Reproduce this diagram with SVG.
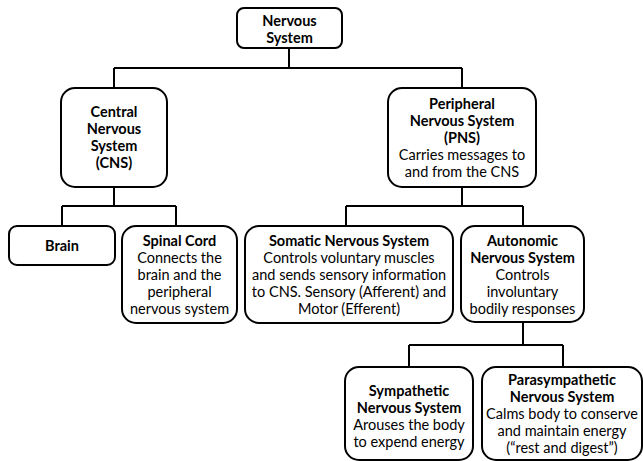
<svg xmlns="http://www.w3.org/2000/svg" width="643" height="461" viewBox="0 0 643 461">
<style>
.box{fill:#fff;stroke:#000;stroke-width:2}
.ln{fill:none;stroke:#000;stroke-width:2}
text{font-family:Lato,"Open Sans","Liberation Sans",sans-serif;font-size:14.5px;fill:#000;text-anchor:middle}
.b{font-weight:bold}
</style>
<rect width="643" height="461" fill="#fff"/>
<g id="connectors">
<path class="ln" d="M289,48V68M114,68H462M114,68V88M462,68V88"/>
<path class="ln" d="M114,187V206M62,206H176M62,206V226M176,206V226"/>
<path class="ln" d="M462,187V206M346,206H523M346,206V226M523,206V226"/>
<path class="ln" d="M523,322V345M409,345H563M409,345V367M563,345V367"/>
</g>
<g id="nervous-system">
<rect class="box" x="237" y="8" width="105" height="40" rx="7"/>
<text class="b" x="289.5" y="26">Nervous</text>
<text class="b" x="289.5" y="43">System</text>
</g>
<g id="cns">
<rect class="box" x="61" y="88" width="106" height="99" rx="14"/>
<text class="b" x="114" y="117">Central</text>
<text class="b" x="114" y="134">Nervous</text>
<text class="b" x="114" y="151">System</text>
<text class="b" x="114" y="168">(CNS)</text>
</g>
<g id="pns">
<rect class="box" x="388" y="88" width="148" height="99" rx="14"/>
<text class="b" x="462" y="108.5">Peripheral</text>
<text class="b" x="462" y="125.5">Nervous System</text>
<text class="b" x="462" y="142.5">(PNS)</text>
<text x="462" y="159.5">Carries messages to</text>
<text x="462" y="176.5">and from the CNS</text>
</g>
<g id="brain">
<rect class="box" x="9" y="226" width="106" height="39" rx="8"/>
<text class="b" x="62" y="250.5">Brain</text>
</g>
<g id="spinal-cord">
<rect class="box" x="122" y="226" width="115" height="97" rx="14"/>
<text class="b" x="179.5" y="245.5">Spinal Cord</text>
<text x="179.5" y="262.5">Connects the</text>
<text x="179.5" y="279.5">brain and the</text>
<text x="179.5" y="296.5">peripheral</text>
<text x="179.5" y="313.5">nervous system</text>
</g>
<g id="somatic">
<rect class="box" x="245" y="226" width="208" height="97" rx="14"/>
<text class="b" x="349" y="245.5">Somatic Nervous System</text>
<text x="349" y="262.5">Controls voluntary muscles</text>
<text x="349" y="279.5">and sends sensory information</text>
<text x="349" y="296.5">to CNS. Sensory (Afferent) and</text>
<text x="349" y="313.5">Motor (Efferent)</text>
</g>
<g id="autonomic">
<rect class="box" x="461" y="226" width="123" height="96" rx="14"/>
<text class="b" x="522.5" y="245.5">Autonomic</text>
<text class="b" x="522.5" y="262.5">Nervous System</text>
<text x="522.5" y="279.5">Controls</text>
<text x="522.5" y="296.5">involuntary</text>
<text x="522.5" y="313.5">bodily responses</text>
</g>
<g id="sympathetic">
<rect class="box" x="345" y="367" width="128" height="93" rx="14"/>
<text class="b" x="409" y="396">Sympathetic</text>
<text class="b" x="409" y="413">Nervous System</text>
<text x="409" y="430">Arouses the body</text>
<text x="409" y="447">to expend energy</text>
</g>
<g id="parasympathetic">
<rect class="box" x="482" y="367" width="160" height="93" rx="14"/>
<text class="b" x="562" y="385">Parasympathetic</text>
<text class="b" x="562" y="402">Nervous System</text>
<text x="562" y="419">Calms body to conserve</text>
<text x="562" y="436">and maintain energy</text>
<text x="562" y="453">(“rest and digest”)</text>
</g>
</svg>
